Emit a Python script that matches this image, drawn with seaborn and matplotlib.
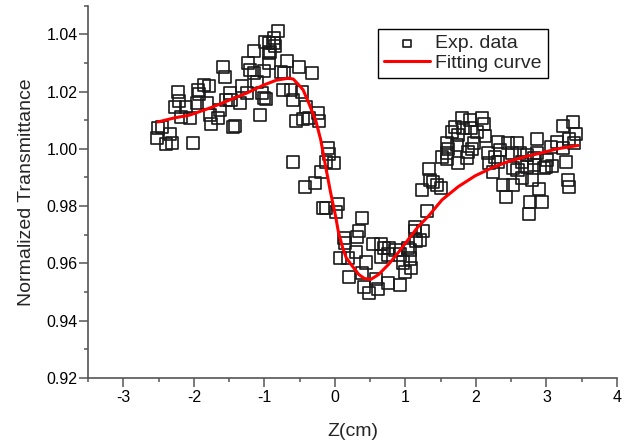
import matplotlib
matplotlib.use('Agg')
import matplotlib.pyplot as plt
import seaborn as sns
from matplotlib.ticker import MultipleLocator, FormatStrFormatter

exp_z = [-2.52, -2.51, -2.45, -2.39, -2.34, -2.31, -2.27, -2.23, -2.21, -2.18,
         -2.11, -2.06, -2.01, -1.96, -1.92, -1.94, -1.85, -1.79, -1.82, -1.77,
         -1.75, -1.66, -1.63, -1.59, -1.56, -1.54, -1.49, -1.48, -1.45, -1.42,
         -1.35, -1.31, -1.25, -1.23, -1.21, -1.14, -1.14, -1.11, -1.06, -1.03,
         -1.01, -1.01, -0.94, -0.92, -0.99, -0.87, -0.93, -0.80, -0.86, -0.85,
         -0.93, -0.68, -0.51, -0.32, -0.72, -0.76, -0.73, -0.62, -0.46, -0.59,
         -0.41, -0.55, -0.45, -0.37, -0.24, -0.23, -0.97, -0.59, -0.10, -0.08,
         -0.13, -0.01, -0.20, -0.28, -0.42, -0.17, -0.13, 0.04, 0.01, 0.38,
         0.34, 0.32, 0.54, 0.13, 0.15, 0.07, 0.18, 0.30, 0.44, 0.66,
         0.69, 0.77, 0.86, 0.65, 0.76, 0.92, 0.97, 1.04, 1.07, 1.08,
         0.99, 0.39, 0.20, 0.58, 0.75, 0.92, 0.61, 0.48, 0.42, 1.13,
         1.14, 1.25, 1.21, 1.15, 1.31, 1.06, 1.23, 1.34, 1.35, 1.39,
         1.45, 1.51, 1.52, 1.59, 1.61, 1.59, 1.73, 1.75, 1.66, 1.70,
         1.80, 1.92, 1.82, 1.93, 2.01, 2.08, 2.11, 2.13, 1.97, 1.94,
         1.89, 1.87, 1.75, 1.59, 2.17, 2.31, 2.45, 2.34, 2.51, 2.27,
         2.18, 2.24, 2.38, 2.52, 2.42, 2.52, 2.58, 2.62, 2.31, 2.59,
         2.65, 2.66, 2.72, 2.73, 2.80, 2.83, 2.83, 2.86, 2.87, 2.90,
         2.77, 2.93, 2.75, 2.97, 3.01, 3.07, 3.08, 3.15, 3.23, 3.37,
         3.32, 3.39, 3.42, 3.24, 3.28, 3.30, 3.32, 3.00]
exp_t = [1.0038, 1.0073, 1.0077, 1.0017, 1.0052, 1.0021, 1.0146, 1.0199, 1.0167, 1.0111,
         1.0146, 1.0108, 1.0021, 1.0160, 1.0192, 1.0206, 1.0223, 1.0220, 1.0160, 1.0118,
         1.0087, 1.0108, 1.0136, 1.0286, 1.0251, 1.0171, 1.0195, 1.0171, 1.0077, 1.0080,
         1.0160, 1.0220, 1.0195, 1.0300, 1.0275, 1.0265, 1.0341, 1.0233, 1.0118, 1.0195,
         1.0178, 1.0272, 1.0300, 1.0338, 1.0373, 1.0369, 1.0369, 1.0411, 1.0387, 1.0359,
         1.0334, 1.0307, 1.0286, 1.0265, 1.0265, 1.0268, 1.0206, 1.0206, 1.0199, 1.0171,
         1.0146, 1.0098, 1.0105, 1.0108, 1.0125, 1.0098, 1.0174, 0.9955, 1.0003, 0.9983,
         0.9955, 0.9951, 0.9920, 0.9882, 0.9868, 0.9794, 0.9794, 0.9808, 0.9780, 0.9760,
         0.9714, 0.9693, 0.9666, 0.9690, 0.9672, 0.9620, 0.9620, 0.9641, 0.9603, 0.9666,
         0.9655, 0.9652, 0.9645, 0.9624, 0.9631, 0.9631, 0.9603, 0.9652, 0.9617, 0.9585,
         0.9571, 0.9568, 0.9554, 0.9547, 0.9533, 0.9526, 0.9512, 0.9498, 0.9519, 0.9714,
         0.9728, 0.9714, 0.9683, 0.9679, 0.9784, 0.9648, 0.9857, 0.9930, 0.9892, 0.9885,
         0.9875, 0.9864, 0.9972, 0.9986, 1.0000, 1.0021, 1.0014, 1.0049, 1.0059, 1.0077,
         1.0108, 1.0101, 1.0073, 1.0073, 1.0059, 1.0108, 1.0087, 1.0045, 1.0021, 1.0000,
         0.9990, 0.9969, 0.9951, 0.9965, 0.9986, 1.0024, 1.0021, 0.9997, 0.9986, 0.9972,
         0.9951, 0.9920, 0.9875, 0.9875, 0.9833, 0.9934, 1.0021, 0.9986, 0.9955, 0.9927,
         0.9955, 0.9899, 0.9937, 0.9979, 0.9892, 0.9944, 0.9969, 0.9986, 1.0035, 0.9861,
         0.9815, 0.9815, 0.9774, 0.9934, 0.9962, 1.0007, 0.9941, 1.0024, 1.0080, 1.0094,
         1.0035, 1.0021, 1.0052, 1.0003, 0.9955, 0.9892, 0.9868, 0.9937]

# fitted curve
fit_z = [-2.51, -2.28, -2.06, -1.77, -1.49, -1.25, -1.01, -0.83, -0.66, -0.59,
         -0.51, -0.45, -0.37, -0.27, -0.20, -0.13, -0.06, 0.01, 0.05, 0.11,
         0.16, 0.23, 0.34, 0.42, 0.51, 0.62, 0.76, 0.90, 1.04, 1.18,
         1.32, 1.52, 1.75, 1.99, 2.23, 2.45, 2.69, 2.93, 3.15, 3.45]
fit_t = [1.0094, 1.0108, 1.0118, 1.0143, 1.0171, 1.0195, 1.0223, 1.0240, 1.0247, 1.0244,
         1.0223, 1.0206, 1.0160, 1.0098, 1.0031, 0.9937, 0.9847, 0.9765, 0.9710, 0.9655,
         0.9620, 0.9596, 0.9561, 0.9547, 0.9544, 0.9561, 0.9596, 0.9638, 0.9683, 0.9728,
         0.9763, 0.9822, 0.9868, 0.9906, 0.9934, 0.9955, 0.9972, 0.9986, 1.0000, 1.0012]

sns.set_style('ticks')
plt.rcParams['font.family'] = ['Liberation Sans', 'DejaVu Sans']
plt.rcParams['axes.unicode_minus'] = False

fig = plt.figure(figsize=(6.38, 4.44), dpi=100)
ax = fig.add_axes([0.138, 0.149, 0.829, 0.838])

sns.scatterplot(x=exp_z, y=exp_t, ax=ax, marker='s', s=75,
                facecolors='none', edgecolor='#1a1a1a', linewidth=1.2,
                label='Exp. data', zorder=2)
sns.lineplot(x=fit_z, y=fit_t, ax=ax, color='red', linewidth=2.2,
             estimator=None, sort=False, label='Fitting curve', zorder=3)

ax.set_xlim(-3.5, 4)
ax.set_ylim(0.92, 1.05)
ax.xaxis.set_major_locator(MultipleLocator(1))
ax.xaxis.set_minor_locator(MultipleLocator(0.5))
ax.yaxis.set_major_locator(MultipleLocator(0.02))
ax.yaxis.set_minor_locator(MultipleLocator(0.01))
ax.yaxis.set_major_formatter(FormatStrFormatter('%.2f'))

sns.despine(ax=ax)
for side in ['left', 'bottom']:
    ax.spines[side].set_color('#555555')
    ax.spines[side].set_linewidth(1.2)
ax.tick_params(which='both', direction='out', color='#555555', width=1.1,
               labelsize=11.5, labelcolor='black')
ax.tick_params(which='major', length=6.5)
ax.tick_params(which='minor', length=3)
ax.tick_params(axis='y', which='major', pad=1)
ax.tick_params(axis='x', which='major', pad=2.5)

ax.set_xlabel('Z(cm)', fontsize=14, labelpad=13)
ax.set_ylabel('Normalized Transmittance', fontsize=14, labelpad=8)

leg = ax.legend(loc='upper left', bbox_to_anchor=(0.548, 0.938), fontsize=14,
                frameon=True, fancybox=False, framealpha=1, edgecolor='black',
                borderaxespad=0, handlelength=2.4, handletextpad=0.25,
                labelspacing=0.1, borderpad=0.3, markerscale=0.6)
leg.get_frame().set_linewidth(1.0)

fig.savefig('out.png', dpi=100)
